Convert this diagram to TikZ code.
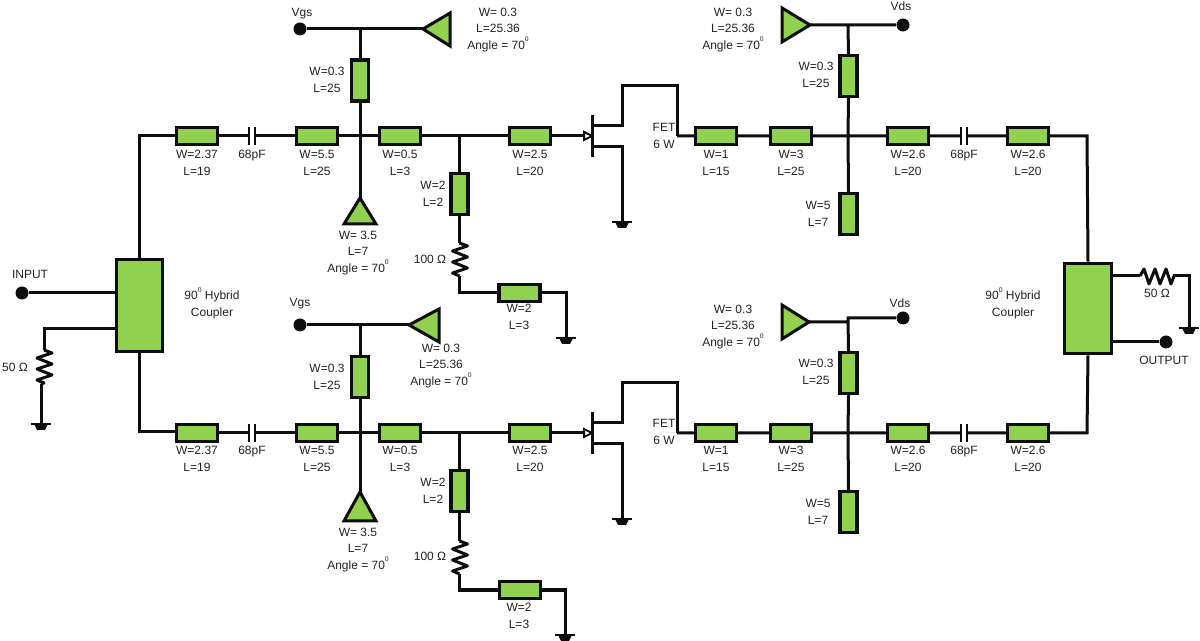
\documentclass[tikz,border=0pt]{standalone}
\usepackage{fontspec}
\setmainfont{Liberation Sans}
\definecolor{stubgreen}{HTML}{92D050}
\definecolor{inkc}{HTML}{0D0D0D}
\definecolor{textc}{HTML}{222222}
\newcommand{\hstub}[3]{\node[hbox] (#1) at (#2,#3) {};}
\newcommand{\vstub}[3]{\node[vbox] (#1) at (#2,#3) {};}
\newcommand{\lbl}[4]{\node[lab] (#1) at (#2,#3) {#4};}
\newcommand{\supz}{\raisebox{0.62em}{\fontsize{3.4}{4}\selectfont 0}}
\newcommand{\capac}[3]{\node[capbox] (#1) at (#2,#3) {};
  \draw[wire,line width=1.1pt] (#1.north west) -- (#1.south west) (#1.north east) -- (#1.south east);}
\newcommand{\grd}[1]{\draw[wire,line width=1.1pt] ($(#1)+(-10,0)$) -- ($(#1)+(10,0)$);
  \fill[inkc] ($(#1)+(-7,0)$) -- ($(#1)+(7,0)$) -- ($(#1)+(4,6)$) -- ($(#1)+(-4,6)$) -- cycle;}
\newcommand{\dotc}[3]{\node[term] (#1) at (#2,#3) {};}
% vertical resistor from #1 to #2 (33 px long)
\newcommand{\vres}[2]{\draw[wire,line join=round] (#1) -- ++(8,3) -- ++(-15,5) -- ++(15,6) -- ++(-15,5) -- ++(15,6) -- ++(-15,5) -- ++(7,3) -- (#2);}
\newcommand{\hres}[2]{\draw[wire,line join=round] (#1) -- ++(4,-7) -- ++(5,15) -- ++(6,-15) -- ++(5,15) -- ++(6,-15) -- ++(5,15) -- ++(3,-8) -- (#2);}
\newcommand{\fet}[2]{% #1 prefix, #2 y offset
  \coordinate (#1gt) at (592,115+#2); \coordinate (#1gb) at (592,157+#2);
  \coordinate (#1g) at (592,136+#2);
  \coordinate (#1ga) at (584,136+#2);
  \coordinate (#1d) at (592,126+#2); \coordinate (#1d1) at (622,126+#2);
  \coordinate (#1d2) at (622,86+#2); \coordinate (#1d3) at (677,86+#2);
  \coordinate (#1d4) at (677,136+#2);
  \coordinate (#1s) at (592,147+#2); \coordinate (#1s1) at (622,147+#2);
  \coordinate (#1s2) at (622,222+#2);
  \draw[wire] (#1gt) -- (#1gb);
  \draw[wire] (#1d) -- (#1d1) -- (#1d2) -- (#1d3) -- (#1d4);
  \draw[wire] (#1s) -- (#1s1) -- (#1s2);
  \draw[wire,fill=white,line width=1pt] (#1g) -- ++(-8,-4) -- ++(0,8) -- cycle;
  \grd{#1s2}}
\tikzset{
  x=0.5pt,y=-0.5pt,
  wire/.style={draw=inkc,line width=1.5pt},
  hbox/.style={draw=inkc,fill=stubgreen,line width=1.7pt,minimum width=20.5pt,minimum height=8.5pt,inner sep=0pt},
  vbox/.style={draw=inkc,fill=stubgreen,line width=1.7pt,minimum width=8.5pt,minimum height=20.5pt,inner sep=0pt},
  capbox/.style={minimum width=2.6pt,minimum height=9pt,inner sep=0pt},
  coupler/.style={draw=inkc,fill=stubgreen,line width=1.8pt,inner sep=0pt},
  term/.style={circle,fill=inkc,minimum size=6.5pt,inner sep=0pt},
  lab/.style={text=textc,align=center,inner sep=0pt,font=\fontsize{6}{8.2}\selectfont},
  tri/.style={draw=inkc,fill=stubgreen,line width=1.5pt,line join=miter}
}
\usetikzlibrary{calc}
\begin{document}
\begin{tikzpicture}
\useasboundingbox (0,0) rectangle (1200,641);
% couplers
\node[coupler,minimum width=23pt,minimum height=46pt] (cl) at (139.5,305.5) {};
\node[coupler,minimum width=23.5pt,minimum height=45pt] (cr) at (1088,308.5) {};
% terminals
\dotc{inp}{22}{293}
\dotc{outp}{1166}{342}
\dotc{vgsa}{300}{29}
\dotc{vdsa}{903}{25}
\dotc{vgsb}{300}{325}
\dotc{vdsb}{903}{318}
% coordinates
\coordinate (cltop) at (139.5,136);
\coordinate (clbot) at (139.5,432);
\coordinate (crtop) at (1087,136);
\coordinate (crbot) at (1087,433);
\coordinate (l50a) at (44,329);
\coordinate (l50b) at (44,350);
\coordinate (l50c) at (41,384);
\coordinate (l50g) at (41,424);
\coordinate (r50a) at (1140,276);
\coordinate (r50b) at (1173,276);
\coordinate (r50c) at (1189,276);
\coordinate (r50g) at (1189,328);
% input side wires
\draw[wire] (inp) -- (inp-|cl.west);
\draw[wire] (l50a-|cl.west) -- (l50a) -- (l50b);
\draw[wire] (l50c) -- (l50g);
\vres{l50b}{l50c}
\grd{l50g}
\draw[wire] (cr.east|-outp) -- (outp);
\draw[wire] (r50a-|cr.east) -- (r50a);
\hres{r50a}{r50b}
\draw[wire] (r50b) -- (r50c) -- (r50g);
\grd{r50g}
% TOP ROW
\hstub{a1}{197}{136}\capac{ac1}{252}{136}
\hstub{a2}{317}{136}\hstub{a3}{400}{136}\hstub{a4}{530}{136}
\hstub{a5}{716}{136}\hstub{a6}{791}{136}\hstub{a7}{908}{136}
\capac{ac2}{964}{136}\hstub{a8}{1028}{136}
\coordinate (aj1) at (360,136); \coordinate (aj2) at (459.5,136); \coordinate (aj3) at (848,136);
\coordinate (at1) at (360,29); \coordinate (at2) at (848,25);
\fet{af}{0}
\draw[wire] (cl.north) -- (cltop) -- (a1.west) (a1.east) -- (ac1.west) (ac1.east) -- (a2.west)
  (a2.east) -- (a3.west) (a3.east) -- (a4.west) (a4.east) -- (afga);
\draw[wire] (afd4) -- (a5.west) (a5.east) -- (a6.west) (a6.east) -- (a7.west) (a7.east) -- (ac2.west)
  (ac2.east) -- (a8.west) (a8.east) -- (crtop) -- (cr.north);
% gate stubs top
\vstub{av1}{360}{80.5}
\coordinate (atip1) at (423,29); \coordinate (atip2) at (360,198); \coordinate (atip3) at (810,25);
\draw[wire] (vgsa) -- (at1) -- (atip1) (at1) -- (av1.north) (av1.south) -- (aj1) -- (atip2);
\draw[tri] (atip1) -- (450,13) -- (450,46) -- cycle;
\draw[tri] (atip2) -- (344,224) -- (376,224) -- cycle;
\vstub{av2}{459.5}{194}
\coordinate (ar1) at (459.5,243); \coordinate (ar2) at (459.5,276); \coordinate (ac3) at (459.5,293);
\hstub{av3}{519.5}{293}
\coordinate (ac4) at (566,293); \coordinate (ag1) at (566,338);
\draw[wire] (aj2) -- (av2.north) (av2.south) -- (ar1) (ar2) -- (ac3) -- (av3.west) (av3.east) -- (ac4) -- (ag1);
\vres{ar1}{ar2}
\grd{ag1}
% drain stubs top
\vstub{av4}{848.5}{76}\vstub{av5}{848.5}{214}
\draw[wire] (atip3) -- (at2) -- (vdsa) (at2) -- (av4.north) (av4.south) -- (aj3) -- (av5.north);
\draw[tri] (atip3) -- (782,8) -- (782,42) -- cycle;
% BOTTOM ROW
\hstub{b1}{197}{433}\capac{bc1}{252}{433}
\hstub{b2}{317}{433}\hstub{b3}{400}{433}\hstub{b4}{530}{433}
\hstub{b5}{716}{433}\hstub{b6}{791}{433}\hstub{b7}{908}{433}
\capac{bc2}{964}{433}\hstub{b8}{1028}{433}
\coordinate (bj1) at (360,433); \coordinate (bj2) at (459.5,433); \coordinate (bj3) at (848,433);
\coordinate (bt1) at (360,325);
\fet{bf}{297}
\draw[wire] (cl.south) -- (clbot) -- (clbot-|b1.west) (b1.east) -- (bc1.west) (bc1.east) -- (b2.west)
  (b2.east) -- (b3.west) (b3.east) -- (b4.west) (b4.east) -- (bfga);
\draw[wire] (bfd4) -- (b5.west) (b5.east) -- (b6.west) (b6.east) -- (b7.west) (b7.east) -- (bc2.west)
  (bc2.east) -- (b8.west) (b8.east) -- (crbot) -- (cr.south);
\vstub{bv1}{360}{377}
\coordinate (btip1) at (409,325); \coordinate (btip2) at (360,492); \coordinate (btip3) at (809,322);
\draw[wire] (vgsb) -- (bt1) -- (btip1) (bt1) -- (bv1.north) (bv1.south) -- (bj1) -- (btip2);
\draw[tri] (btip1) -- (439,309) -- (439,342) -- cycle;
\draw[tri] (btip2) -- (344,521) -- (376,521) -- cycle;
\vstub{bv2}{459.5}{491}
\coordinate (br1) at (459.5,541); \coordinate (br2) at (459.5,574); \coordinate (bc3) at (459.5,590);
\hstub{bv3}{520}{590}
\coordinate (bc4) at (565,590); \coordinate (bg1) at (565,635);
\draw[wire] (bj2) -- (bv2.north) (bv2.south) -- (br1) (br2) -- (bc3) -- (bv3.west) (bv3.east) -- (bc4) -- (bg1);
\vres{br1}{br2}
\grd{bg1}
\vstub{bv4}{848.5}{373}\vstub{bv5}{848.5}{512}
\coordinate (bt2) at (848,322); \coordinate (bt3) at (848,318);
\draw[wire] (btip3) -- (bt2) -- (bt3) -- (vdsb) (bt3) -- (bv4.north) (bv4.south) -- (bj3) -- (bv5.north);
\draw[tri] (btip3) -- (782,305) -- (782,339) -- cycle;
% LABELS
\lbl{t1}{30}{274}{INPUT}
\lbl{t2}{1164}{360}{OUTPUT}
\lbl{t3}{15}{367}{50 Ω}
\lbl{t4}{1157}{293}{50 Ω}
\lbl{t5}{212}{303}{90\supz{} Hybrid\\Coupler}
\lbl{t6}{1013}{303}{90\supz{} Hybrid\\Coupler}
% top row labels
\lbl{la1}{197}{163}{W=2.37\\L=19}
\lbl{la2}{252}{156}{68pF}
\lbl{la3}{317}{163}{W=5.5\\L=25}
\lbl{la4}{400}{163}{W=0.5\\L=3}
\lbl{la5}{530}{163}{W=2.5\\L=20}
\lbl{la6}{716}{163}{W=1\\L=15}
\lbl{la7}{791}{163}{W=3\\L=25}
\lbl{la8}{908}{163}{W=2.6\\L=20}
\lbl{la9}{964}{156}{68pF}
\lbl{la10}{1028}{163}{W=2.6\\L=20}
\lbl{la11}{664}{136}{FET\\6 W}
\lbl{la12}{302}{14}{Vgs}
\lbl{la13}{901}{6}{Vds}
\lbl{la14}{498}{30}{W= 0.3\\L=25.36\\Angle = 70\supz}
\lbl{la15}{733}{30}{W= 0.3\\L=25.36\\Angle = 70\supz}
\lbl{la16}{327}{80}{W=0.3\\L=25}
\lbl{la17}{358}{253}{W= 3.5\\L=7\\Angle = 70\supz}
\lbl{la18}{433}{194}{W=2\\L=2}
\lbl{la19}{430}{259}{100 Ω}
\lbl{la20}{519}{317}{W=2\\L=3}
\lbl{la21}{816}{75}{W=0.3\\L=25}
\lbl{la22}{818}{214}{W=5\\L=7}
% bottom row labels
\lbl{lb1}{197}{459}{W=2.37\\L=19}
\lbl{lb2}{252}{452}{68pF}
\lbl{lb3}{317}{459}{W=5.5\\L=25}
\lbl{lb4}{400}{459}{W=0.5\\L=3}
\lbl{lb5}{530}{459}{W=2.5\\L=20}
\lbl{lb6}{716}{459}{W=1\\L=15}
\lbl{lb7}{791}{459}{W=3\\L=25}
\lbl{lb8}{908}{459}{W=2.6\\L=20}
\lbl{lb9}{964}{452}{68pF}
\lbl{lb10}{1028}{459}{W=2.6\\L=20}
\lbl{lb11}{664}{432}{FET\\6 W}
\lbl{lb12}{300}{304}{Vgs}
\lbl{lb13}{900}{303}{Vds}
\lbl{lb14}{441}{366}{W= 0.3\\L=25.36\\Angle = 70\supz}
\lbl{lb15}{733}{327}{W= 0.3\\L=25.36\\Angle = 70\supz}
\lbl{lb16}{327}{377}{W=0.3\\L=25}
\lbl{lb17}{358}{550}{W= 3.5\\L=7\\Angle = 70\supz}
\lbl{lb18}{433}{491}{W=2\\L=2}
\lbl{lb19}{430}{556}{100 Ω}
\lbl{lb20}{519}{616}{W=2\\L=3}
\lbl{lb21}{816}{372}{W=0.3\\L=25}
\lbl{lb22}{818}{512}{W=5\\L=7}
\end{tikzpicture}
\end{document}
